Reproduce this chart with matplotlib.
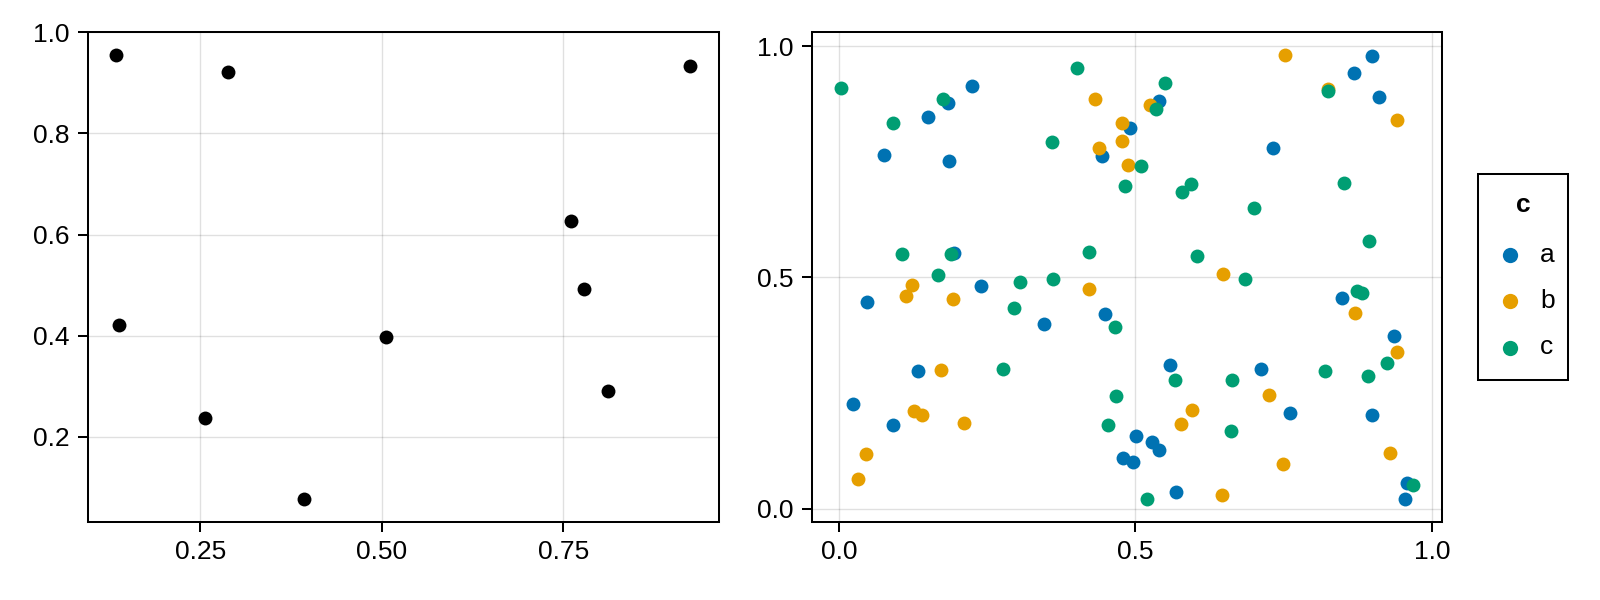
import matplotlib
matplotlib.use("Agg")
import matplotlib.pyplot as plt
from matplotlib.patches import Rectangle

plt.rcParams['font.family'] = ['Liberation Sans', 'DejaVu Sans']
plt.rcParams['font.size'] = 19

# left panel: plain black points
left_x = [0.134, 0.288, 0.138, 0.256, 0.393, 0.506, 0.925, 0.761, 0.778, 0.811]
left_y = [0.956, 0.922, 0.422, 0.237, 0.076, 0.398, 0.934, 0.626, 0.493, 0.291]
left_xticks = [0.25, 0.50, 0.75]
left_xlabels = ["0.25", "0.50", "0.75"]
left_yticks = [0.2, 0.4, 0.6, 0.8, 1.0]
left_ylabels = ["0.2", "0.4", "0.6", "0.8", "1.0"]

# right panel: points grouped by column c
a_x = [0.225, 0.184, 0.150, 0.076, 0.185, 0.194, 0.240, 0.539, 0.491, 0.443,
       0.898, 0.868, 0.910, 0.732, 0.048, 0.133, 0.024, 0.092, 0.345, 0.449,
       0.558, 0.501, 0.527, 0.539, 0.479, 0.496, 0.5685, 0.8485, 0.9355, 0.7116,
       0.760, 0.898, 0.957, 0.955]
a_y = [0.915, 0.877, 0.847, 0.764, 0.751, 0.553, 0.482, 0.881, 0.824, 0.762,
       0.979, 0.942, 0.890, 0.780, 0.448, 0.298, 0.227, 0.182, 0.400, 0.421,
       0.311, 0.158, 0.145, 0.126, 0.110, 0.100, 0.037, 0.455, 0.374, 0.301,
       0.206, 0.2018, 0.055, 0.020]

b_x = [0.123, 0.432, 0.525, 0.477, 0.477, 0.439, 0.488, 0.421, 0.752, 0.825,
       0.940, 0.648, 0.114, 0.192, 0.172, 0.127, 0.141, 0.2116, 0.046, 0.032,
       0.595, 0.577, 0.870, 0.9406, 0.725, 0.929, 0.749, 0.645]
b_y = [0.483, 0.885, 0.873, 0.833, 0.796, 0.779, 0.744, 0.475, 0.982, 0.908,
       0.841, 0.508, 0.460, 0.454, 0.299, 0.2105, 0.2025, 0.1845, 0.118, 0.065,
       0.214, 0.184, 0.4236, 0.3387, 0.2464, 0.121, 0.0973, 0.030]

c_x = [0.003, 0.176, 0.0916, 0.107, 0.189, 0.167, 0.402, 0.549, 0.535, 0.360,
       0.509, 0.483, 0.593, 0.579, 0.422, 0.604, 0.305, 0.361, 0.825, 0.852,
       0.700, 0.893, 0.685, 0.874, 0.881, 0.296, 0.466, 0.276, 0.567, 0.467,
       0.454, 0.519, 0.924, 0.820, 0.892, 0.663, 0.661, 0.968]
c_y = [0.909, 0.886, 0.833, 0.5505, 0.550, 0.506, 0.952, 0.921, 0.865, 0.7925,
       0.741, 0.697, 0.703, 0.684, 0.554, 0.5455, 0.490, 0.4965, 0.904, 0.704,
       0.651, 0.579, 0.4965, 0.471, 0.467, 0.434, 0.393, 0.303, 0.278, 0.2436,
       0.180, 0.020, 0.316, 0.2976, 0.288, 0.279, 0.1686, 0.0505]

groups = ["a", "b", "c"]
group_colors = ["#0072B2", "#E69F00", "#009E73"]
right_ticks = [0.0, 0.5, 1.0]
right_labels = ["0.0", "0.5", "1.0"]

fig = plt.figure(figsize=(16, 6), dpi=100)
ax1 = fig.add_axes([0.0547, 0.1305, 0.3947, 0.8157])
ax2 = fig.add_axes([0.5075, 0.1305, 0.3936, 0.8157])


def style_axis(ax):
    ax.set_axisbelow(True)
    ax.grid(True, color="black", alpha=0.12, linewidth=1.0)
    for s in ax.spines.values():
        s.set_linewidth(1.45)
        s.set_color("black")
    ax.tick_params(direction="out", length=7.2, width=1.45, color="black", pad=6)


ax1.scatter(left_x, left_y, s=100, color="black", linewidths=0)
ax1.set_xticks(left_xticks, left_xlabels)
ax1.set_yticks(left_yticks, left_ylabels)
style_axis(ax1)

for gx, gy, name, col in zip([a_x, b_x, c_x], [a_y, b_y, c_y], groups, group_colors):
    ax2.scatter(gx, gy, s=100, color=col, linewidths=0, label=name)
ax2.set_xticks(right_ticks, right_labels)
ax2.set_yticks(right_ticks, right_labels)
style_axis(ax2)

# legend: entries from the scatter handles, title and frame drawn separately
handles, labels = ax2.get_legend_handles_labels()
leg = fig.legend(handles, labels, loc="center left",
                 bbox_to_anchor=(1490 / 1600, 1 - 301 / 600), frameon=False,
                 borderpad=0, borderaxespad=0, handlelength=1.5,
                 handletextpad=0.4, labelspacing=0.85, scatterpoints=1,
                 markerscale=1.1)
fig.text(1523 / 1600, 1 - 205 / 600, "c", ha="center", va="center",
         fontweight="bold")
fig.patches.append(Rectangle((1478 / 1600, 1 - 380 / 600), 90 / 1600, 206 / 600,
                             transform=fig.transFigure, fill=False,
                             edgecolor="black", linewidth=1.45))

fig.savefig("out.png", dpi=100)
